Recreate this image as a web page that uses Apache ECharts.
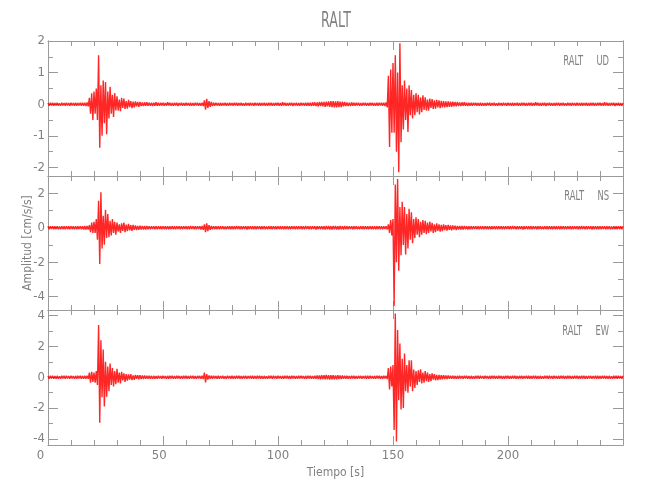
<!DOCTYPE html>
<html><head><meta charset="utf-8">
<script src="https://cdn.jsdelivr.net/npm/echarts@6/dist/echarts.min.js"></script>
<style>html,body{margin:0;padding:0;background:#fff}#c{width:650px;height:500px}</style>
</head><body><div id="c"></div>
<script>
// ---- data (acceleration peaks, one value every sampleStep seconds) ----
const sampleStep = 0.5; // s
const stationName = 'RALT';
const componentNames = ['UD', 'NS', 'EW'];

const udValues = [
0.04,-0.05,0.05,-0.04,0.05,-0.05,0.04,-0.04,0.05,-0.05,0.03,-0.05,0.05,-0.04,0.04,-0.05,0.05,-0.04,0.04,-0.05,
0.05,-0.04,0.04,-0.05,0.05,-0.05,0.04,-0.04,0.05,-0.05,0.05,-0.05,0.05,-0.06,0.06,-0.07,0.2,-0.3,0.35,-0.5,
0.4,-0.3,0.5,-0.5,1.55,-1.38,0.6,-1.0,0.75,-0.6,0.7,-0.95,0.4,-0.45,0.55,-0.3,0.3,-0.4,0.35,-0.2,
0.25,-0.2,0.15,-0.22,0.2,-0.12,0.18,-0.15,0.1,-0.14,0.14,-0.09,0.1,-0.12,0.08,-0.1,0.09,-0.07,0.07,-0.08,
0.07,-0.06,0.06,-0.06,0.06,-0.05,0.06,-0.05,0.05,-0.05,0.05,-0.06,0.05,-0.05,0.06,-0.05,0.05,-0.05,0.05,-0.04,
0.05,-0.05,0.04,-0.05,0.06,-0.04,0.05,-0.05,0.04,-0.05,0.05,-0.04,0.05,-0.06,0.04,-0.04,0.05,-0.05,0.04,-0.05,
0.05,-0.04,0.04,-0.05,0.05,-0.05,0.04,-0.05,0.05,-0.04,0.05,-0.05,0.04,-0.05,0.05,-0.06,0.12,-0.17,0.17,-0.12,
0.1,-0.08,0.07,-0.06,0.05,-0.05,0.05,-0.04,0.04,-0.05,0.05,-0.05,0.04,-0.04,0.05,-0.05,0.04,-0.05,0.05,-0.04,
0.04,-0.05,0.05,-0.04,0.05,-0.05,0.04,-0.04,0.05,-0.05,0.03,-0.05,0.05,-0.04,0.04,-0.05,0.05,-0.04,0.04,-0.05,
0.05,-0.04,0.04,-0.05,0.05,-0.05,0.04,-0.04,0.05,-0.05,0.04,-0.05,0.05,-0.04,0.05,-0.05,0.04,-0.05,0.05,-0.04,
0.05,-0.05,0.04,-0.05,0.06,-0.04,0.05,-0.05,0.04,-0.05,0.05,-0.04,0.05,-0.06,0.04,-0.04,0.05,-0.05,0.04,-0.05,
0.05,-0.04,0.04,-0.05,0.05,-0.05,0.05,-0.05,0.05,-0.06,0.06,-0.05,0.06,-0.06,0.06,-0.07,0.07,-0.06,0.07,-0.07,
0.07,-0.08,0.08,-0.07,0.09,-0.08,0.1,-0.09,0.1,-0.1,0.09,-0.1,0.1,-0.09,0.08,-0.09,0.08,-0.07,0.07,-0.06,
0.06,-0.06,0.05,-0.06,0.06,-0.05,0.05,-0.05,0.05,-0.04,0.05,-0.05,0.04,-0.05,0.05,-0.04,0.05,-0.05,0.04,-0.05,
0.05,-0.04,0.05,-0.05,0.04,-0.05,0.05,-0.05,0.05,-0.04,0.05,-0.05,0.05,-0.06,0.06,-0.1,0.9,-1.35,1.1,-0.9,
1.3,-0.9,1.55,-1.5,1.0,-2.15,1.93,-1.2,0.6,-0.8,0.75,-0.5,0.5,-0.88,0.6,-0.35,0.45,-0.45,0.3,-0.35,
0.35,-0.25,0.3,-0.32,0.22,-0.25,0.28,-0.18,0.22,-0.2,0.15,-0.2,0.18,-0.12,0.16,-0.15,0.12,-0.14,0.14,-0.1,
0.12,-0.12,0.11,-0.1,0.1,-0.1,0.09,-0.09,0.09,-0.08,0.08,-0.08,0.08,-0.07,0.07,-0.07,0.07,-0.06,0.06,-0.06,
0.06,-0.05,0.06,-0.05,0.05,-0.06,0.05,-0.05,0.05,-0.05,0.05,-0.04,0.05,-0.05,0.04,-0.05,0.05,-0.05,0.04,-0.05,
0.04,-0.05,0.05,-0.04,0.05,-0.05,0.04,-0.04,0.05,-0.05,0.03,-0.05,0.05,-0.04,0.04,-0.05,0.05,-0.04,0.04,-0.05,
0.05,-0.04,0.04,-0.05,0.05,-0.05,0.04,-0.04,0.05,-0.05,0.04,-0.05,0.05,-0.04,0.05,-0.05,0.04,-0.05,0.05,-0.04,
0.05,-0.05,0.04,-0.05,0.06,-0.04,0.05,-0.05,0.04,-0.05,0.05,-0.04,0.05,-0.06,0.04,-0.04,0.05,-0.05,0.04,-0.05,
0.04,-0.05,0.05,-0.04,0.05,-0.05,0.04,-0.04,0.05,-0.05,0.03,-0.05,0.05,-0.04,0.04,-0.05,0.05,-0.04,0.04,-0.05,
0.05,-0.04,0.04,-0.05,0.05,-0.05,0.04,-0.04,0.05,-0.05,0.04,-0.05,0.05,-0.04,0.05,-0.05,0.04,-0.05,0.05,-0.04,
0.05,-0.05,0.04,-0.05,0.06,-0.04,0.05,-0.05,0.04,-0.05,0.05,-0.04,0.05,-0.06,0.04,-0.04,0.05,-0.05,0.04,-0.05,
0.04];

const nsValues = [
0.08,-0.09,0.09,-0.08,0.09,-0.09,0.08,-0.08,0.09,-0.09,0.07,-0.09,0.09,-0.08,0.08,-0.09,0.09,-0.08,0.08,-0.09,
0.09,-0.08,0.08,-0.09,0.09,-0.09,0.08,-0.08,0.09,-0.09,0.09,-0.1,0.1,-0.1,0.1,-0.1,0.15,-0.25,0.3,-0.3,
0.35,-0.3,0.5,-0.7,1.57,-2.1,2.05,-1.2,0.7,-0.98,1.04,-0.6,0.8,-0.55,0.4,-0.45,0.5,-0.3,0.35,-0.4,
0.3,-0.22,0.2,-0.3,0.25,-0.18,0.3,-0.25,0.18,-0.2,0.22,-0.15,0.15,-0.18,0.16,-0.12,0.14,-0.13,0.11,-0.12,
0.12,-0.11,0.11,-0.1,0.1,-0.1,0.1,-0.09,0.09,-0.09,0.09,-0.08,0.09,-0.09,0.08,-0.09,0.09,-0.08,0.08,-0.09,
0.09,-0.08,0.08,-0.09,0.09,-0.09,0.08,-0.08,0.09,-0.09,0.08,-0.09,0.09,-0.08,0.09,-0.09,0.08,-0.09,0.09,-0.08,
0.09,-0.09,0.08,-0.09,0.1,-0.08,0.09,-0.09,0.08,-0.09,0.09,-0.08,0.09,-0.1,0.1,-0.12,0.2,-0.25,0.25,-0.2,
0.15,-0.12,0.1,-0.09,0.09,-0.08,0.08,-0.09,0.09,-0.09,0.08,-0.08,0.09,-0.09,0.07,-0.09,0.09,-0.08,0.08,-0.09,
0.09,-0.09,0.08,-0.09,0.1,-0.08,0.09,-0.09,0.08,-0.09,0.09,-0.08,0.09,-0.1,0.08,-0.08,0.09,-0.09,0.08,-0.09,
0.08,-0.09,0.09,-0.08,0.09,-0.09,0.08,-0.08,0.09,-0.09,0.07,-0.09,0.09,-0.08,0.08,-0.09,0.09,-0.08,0.08,-0.09,
0.09,-0.08,0.08,-0.09,0.09,-0.09,0.08,-0.08,0.09,-0.09,0.08,-0.09,0.09,-0.08,0.09,-0.09,0.08,-0.09,0.09,-0.08,
0.09,-0.09,0.08,-0.09,0.1,-0.08,0.09,-0.09,0.08,-0.09,0.09,-0.08,0.09,-0.1,0.08,-0.08,0.09,-0.09,0.08,-0.09,
0.09,-0.1,0.1,-0.09,0.1,-0.1,0.09,-0.1,0.1,-0.09,0.1,-0.1,0.09,-0.1,0.1,-0.09,0.09,-0.1,0.1,-0.09,
0.08,-0.09,0.09,-0.08,0.09,-0.09,0.08,-0.08,0.09,-0.09,0.07,-0.09,0.09,-0.08,0.08,-0.09,0.09,-0.08,0.08,-0.09,
0.09,-0.08,0.08,-0.09,0.09,-0.09,0.08,-0.08,0.09,-0.09,0.08,-0.09,0.09,-0.08,0.09,-0.1,0.2,-0.3,0.45,-0.45,
0.5,-4.53,2.5,-2.0,2.82,-2.5,1.2,-1.6,1.5,-1.0,1.2,-1.55,0.8,-1.2,1.1,-0.7,0.9,-0.9,0.5,-0.6,
0.6,-0.4,0.5,-0.55,0.35,-0.4,0.45,-0.3,0.4,-0.38,0.3,-0.3,0.35,-0.22,0.28,-0.3,0.2,-0.25,0.25,-0.18,
0.2,-0.22,0.17,-0.2,0.2,-0.14,0.15,-0.17,0.16,-0.12,0.13,-0.15,0.14,-0.11,0.12,-0.13,0.11,-0.11,0.1,-0.1,
0.1,-0.1,0.1,-0.09,0.09,-0.1,0.09,-0.09,0.09,-0.09,0.09,-0.08,0.09,-0.09,0.08,-0.09,0.09,-0.09,0.08,-0.09,
0.09,-0.08,0.08,-0.09,0.09,-0.09,0.08,-0.08,0.09,-0.09,0.08,-0.09,0.09,-0.08,0.09,-0.09,0.08,-0.09,0.09,-0.08,
0.09,-0.09,0.08,-0.09,0.1,-0.08,0.09,-0.09,0.08,-0.09,0.09,-0.08,0.09,-0.1,0.08,-0.08,0.09,-0.09,0.08,-0.09,
0.08,-0.09,0.09,-0.08,0.09,-0.09,0.08,-0.08,0.09,-0.09,0.07,-0.09,0.09,-0.08,0.08,-0.09,0.09,-0.08,0.08,-0.09,
0.09,-0.08,0.08,-0.09,0.09,-0.09,0.08,-0.08,0.09,-0.09,0.08,-0.09,0.09,-0.08,0.09,-0.09,0.08,-0.09,0.09,-0.08,
0.09,-0.09,0.08,-0.09,0.1,-0.08,0.09,-0.09,0.08,-0.09,0.09,-0.08,0.09,-0.1,0.08,-0.08,0.09,-0.09,0.08,-0.09,
0.08,-0.09,0.09,-0.08,0.09,-0.09,0.08,-0.08,0.09,-0.09,0.07,-0.09,0.09,-0.08,0.08,-0.09,0.09,-0.08,0.08,-0.09,
0.08];

const ewValues = [
0.08,-0.09,0.1,-0.08,0.09,-0.09,0.08,-0.1,0.09,-0.09,0.07,-0.09,0.09,-0.08,0.1,-0.09,0.09,-0.08,0.08,-0.09,
0.09,-0.08,0.08,-0.1,0.09,-0.09,0.1,-0.08,0.09,-0.09,0.09,-0.1,0.1,-0.1,0.1,-0.1,0.3,-0.35,0.35,-0.3,
0.3,-0.35,0.4,-0.5,3.4,-2.95,2.4,-1.3,1.8,-1.9,1.0,-1.26,0.7,-0.9,0.9,-0.5,0.6,-0.6,0.4,-0.45,
0.55,-0.35,0.3,-0.4,0.35,-0.2,0.25,-0.3,0.2,-0.22,0.18,-0.15,0.2,-0.18,0.12,-0.16,0.15,-0.1,0.14,-0.13,
0.13,-0.12,0.12,-0.11,0.11,-0.1,0.1,-0.1,0.1,-0.09,0.09,-0.1,0.09,-0.09,0.08,-0.09,0.09,-0.08,0.08,-0.09,
0.09,-0.08,0.08,-0.1,0.09,-0.09,0.1,-0.08,0.09,-0.09,0.08,-0.09,0.09,-0.08,0.09,-0.1,0.08,-0.09,0.09,-0.08,
0.1,-0.09,0.08,-0.09,0.1,-0.08,0.09,-0.09,0.08,-0.1,0.09,-0.08,0.09,-0.1,0.1,-0.12,0.3,-0.33,0.2,-0.15,
0.12,-0.1,0.1,-0.09,0.09,-0.08,0.08,-0.09,0.09,-0.09,0.08,-0.08,0.09,-0.09,0.07,-0.09,0.09,-0.08,0.08,-0.09,
0.1,-0.09,0.08,-0.09,0.1,-0.08,0.09,-0.09,0.08,-0.1,0.09,-0.08,0.09,-0.1,0.08,-0.08,0.09,-0.09,0.1,-0.09,
0.08,-0.09,0.1,-0.08,0.09,-0.09,0.08,-0.1,0.09,-0.09,0.07,-0.09,0.09,-0.08,0.1,-0.09,0.09,-0.08,0.08,-0.09,
0.09,-0.08,0.08,-0.1,0.09,-0.09,0.1,-0.08,0.09,-0.09,0.08,-0.09,0.09,-0.08,0.09,-0.1,0.08,-0.09,0.09,-0.08,
0.09,-0.08,0.08,-0.1,0.09,-0.09,0.1,-0.08,0.09,-0.09,0.08,-0.09,0.1,-0.1,0.11,-0.12,0.12,-0.13,0.13,-0.12,
0.14,-0.13,0.15,-0.14,0.13,-0.15,0.14,-0.13,0.13,-0.14,0.12,-0.13,0.13,-0.12,0.12,-0.11,0.11,-0.1,0.1,-0.1,
0.1,-0.09,0.08,-0.09,0.1,-0.08,0.09,-0.09,0.08,-0.1,0.09,-0.08,0.09,-0.1,0.08,-0.08,0.09,-0.09,0.1,-0.09,
0.09,-0.08,0.08,-0.1,0.09,-0.09,0.1,-0.08,0.09,-0.09,0.08,-0.09,0.09,-0.08,0.09,-0.12,0.6,-0.8,0.7,-0.6,
0.8,-3.42,4.15,-4.18,3.07,-1.5,2.2,-2.1,1.2,-2.0,1.55,-0.9,0.8,-1.0,1.1,-0.6,1.1,-0.9,0.5,-0.7,
0.4,-0.5,0.45,-0.3,0.52,-0.4,0.3,-0.35,0.4,-0.25,0.3,-0.3,0.2,-0.25,0.25,-0.15,0.2,-0.2,0.15,-0.18,
0.16,-0.15,0.14,-0.13,0.13,-0.12,0.12,-0.11,0.11,-0.1,0.1,-0.1,0.1,-0.09,0.09,-0.1,0.09,-0.09,0.09,-0.08,
0.08,-0.09,0.1,-0.08,0.09,-0.09,0.08,-0.1,0.09,-0.09,0.07,-0.09,0.09,-0.08,0.1,-0.09,0.09,-0.08,0.08,-0.09,
0.09,-0.08,0.08,-0.1,0.09,-0.09,0.1,-0.08,0.09,-0.09,0.08,-0.09,0.09,-0.08,0.09,-0.1,0.08,-0.09,0.09,-0.08,
0.1,-0.09,0.08,-0.09,0.1,-0.08,0.09,-0.09,0.08,-0.1,0.09,-0.08,0.09,-0.1,0.08,-0.08,0.09,-0.09,0.1,-0.09,
0.08,-0.09,0.1,-0.08,0.09,-0.09,0.08,-0.1,0.09,-0.09,0.07,-0.09,0.09,-0.08,0.1,-0.09,0.09,-0.08,0.08,-0.09,
0.09,-0.08,0.08,-0.1,0.09,-0.09,0.1,-0.08,0.09,-0.09,0.08,-0.09,0.09,-0.08,0.09,-0.1,0.08,-0.09,0.09,-0.08,
0.1,-0.09,0.08,-0.09,0.1,-0.08,0.09,-0.09,0.08,-0.1,0.09,-0.08,0.09,-0.1,0.08,-0.08,0.09,-0.09,0.1,-0.09,
0.08,-0.09,0.1,-0.08,0.09,-0.09,0.08,-0.1,0.09,-0.09,0.07,-0.09,0.09,-0.08,0.1,-0.09,0.09,-0.08,0.08,-0.09,
0.09];

// axis ranges and tick labels
const timeRange = [0, 250];
const timeTickLabels = [0, 50, 100, 150, 200];
const udRange = [-2.27, 2.0];
const nsRange = [-4.77, 3.0];
const ewRange = [-4.4, 4.37];
const udTicks = [-2, -1, 0, 1, 2];
const udMinorTicks = [-1.5, -0.5, 0.5, 1.5];
const nsTicks = [-4, -2, 0, 2];
const nsMinorTicks = [-3, -1, 1];
const ewTicks = [-4, -2, 0, 2, 4];
const ewMinorTicks = [-3, -1, 1, 3];

// ---- chart ----
const FONT = "'Liberation Sans Narrow','DejaVu Sans Condensed','Noto Sans',sans-serif";
const AXIS_COLOR = '#9a9a9a';
const TEXT_COLOR = '#808080';

const grids = [
  { left: 48, right: 27, top: 41, height: 135 },
  { left: 48, right: 27, top: 176, height: 134 },
  { left: 48, right: 27, top: 310, height: 135 }
];

function xAxisFor(gi, pos, labels) {
  return {
    type: 'value', gridIndex: gi, position: pos,
    min: timeRange[0], max: timeRange[1], interval: 50,
    axisLine: { show: true, onZero: false, lineStyle: { color: AXIS_COLOR, width: 1 } },
    axisTick: { show: true, inside: true, length: 9, lineStyle: { color: AXIS_COLOR } },
    minorTick: { show: true, splitNumber: 5, length: 5, lineStyle: { color: AXIS_COLOR } },
    splitLine: { show: false }, minorSplitLine: { show: false },
    axisLabel: labels ? {
      show: true, customValues: timeTickLabels, margin: 4,
      color: TEXT_COLOR, fontFamily: FONT, fontSize: 13,
      formatter: v => String(v).padEnd(3, '\u2007')
    } : { show: false },
    name: labels ? 'Tiempo [s]' : '',
    nameLocation: 'middle', nameGap: 22, nameMoveOverlap: false,
    nameTextStyle: { color: TEXT_COLOR, fontFamily: FONT, fontSize: 12 }
  };
}

function yAxisFor(gi, range, values, pos, major, labels, name) {
  return {
    type: 'value', gridIndex: gi, position: pos,
    min: range[0], max: range[1],
    axisLine: { show: true, onZero: false, lineStyle: { color: AXIS_COLOR, width: 1 } },
    axisTick: { show: true, inside: true, length: major ? 10 : 5, customValues: values, lineStyle: { color: AXIS_COLOR } },
    splitLine: { show: false },
    axisLabel: labels ? {
      show: true, customValues: values, margin: 3,
      color: TEXT_COLOR, fontFamily: FONT, fontSize: 13
    } : { show: false },
    name: name || '', nameLocation: 'middle', nameGap: 14, nameMoveOverlap: false,
    nameTextStyle: { color: TEXT_COLOR, fontFamily: FONT, fontSize: 12 }
  };
}

const traces = [udValues, nsValues, ewValues];
const ranges = [udRange, nsRange, ewRange];
const majors = [udTicks, nsTicks, ewTicks];
const minors = [udMinorTicks, nsMinorTicks, ewMinorTicks];

const xAxes = [], yAxes = [], series = [];
for (let g = 0; g < 3; g++) {
  xAxes.push(xAxisFor(g, 'bottom', g === 2));
  xAxes.push(xAxisFor(g, 'top', false));
  yAxes.push(yAxisFor(g, ranges[g], majors[g], 'left', true, true, g === 1 ? 'Amplitud [cm/s/s]' : ''));
  yAxes.push(yAxisFor(g, ranges[g], minors[g], 'left', false, false));
  yAxes.push(yAxisFor(g, ranges[g], majors[g], 'right', true, false));
  yAxes.push(yAxisFor(g, ranges[g], minors[g], 'right', false, false));
  series.push({
    type: 'line', name: componentNames[g],
    xAxisIndex: g * 2, yAxisIndex: g * 4,
    data: traces[g].map((v, i) => [i * sampleStep, v]),
    showSymbol: false, symbol: 'none', clip: true,
    lineStyle: { color: '#ff0000', width: 1.4, opacity: 0.85 },
    itemStyle: { color: '#ff0000' },
    animation: false, silent: true
  });
}

const labelTops = [61, 196, 331];
const graphics = [{
  type: 'text', x: 336, y: 22, scaleX: 0.6,
  style: { text: stationName, align: 'center', verticalAlign: 'middle',
           fontFamily: 'DejaVu Sans', fontSize: 21, fill: TEXT_COLOR }
}];
componentNames.forEach((c, i) => {
  graphics.push({
    type: 'text', x: 609, y: labelTops[i], scaleX: 0.6,
    style: { text: stationName + '     ' + c, align: 'right', verticalAlign: 'middle',
             fontFamily: 'DejaVu Sans', fontSize: 14, fill: TEXT_COLOR }
  });
});

const chart = echarts.init(document.getElementById('c'), null, { renderer: 'canvas' });
chart.setOption({
  backgroundColor: '#ffffff',
  animation: false,
  grid: grids,
  xAxis: xAxes,
  yAxis: yAxes,
  series: series,
  graphic: graphics
});
</script>
</body></html>
